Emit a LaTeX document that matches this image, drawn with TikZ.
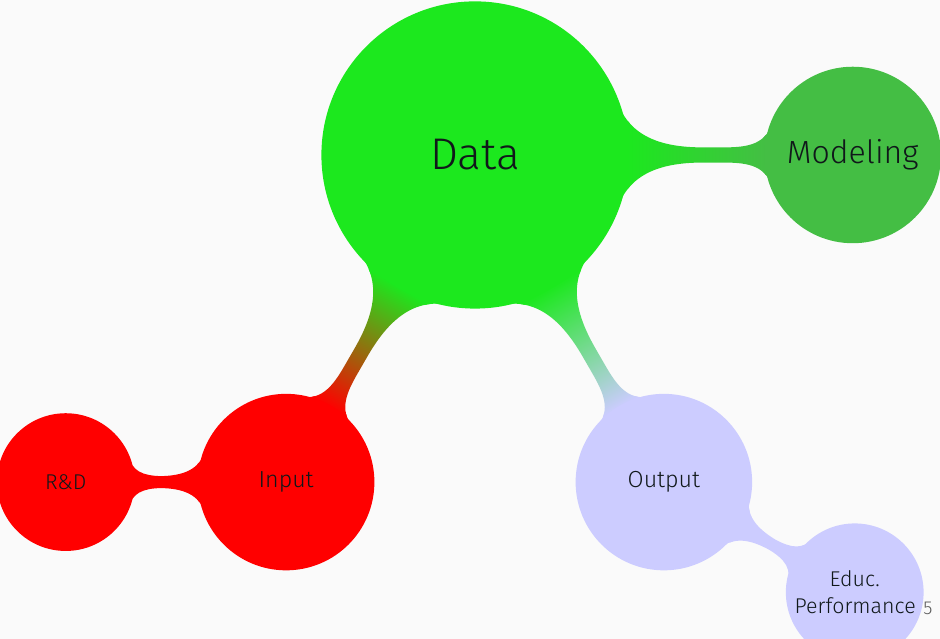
\documentclass[tikz,border=0pt]{standalone}
\usepackage{fontspec}
\setmainfont{Fira Sans}[UprightFont=* Light]
\usepackage{tikz}
\usetikzlibrary{mindmap, backgrounds}

\definecolor{datagreen}{RGB}{28,232,30}
\definecolor{modgreen}{RGB}{68,190,68}
\definecolor{inred}{RGB}{255,0,0}
\definecolor{outblue}{RGB}{204,204,255}
\definecolor{textdark}{HTML}{10181A}
\definecolor{slidebg}{HTML}{FAFAFA}

\begin{document}
\begin{tikzpicture}[
    rootc/.style={concept, inner sep=0pt, text=textdark, align=center,
        minimum size=4cm, text width=3cm, font=\fontsize{16.6}{20}\selectfont},
    lvlone/.style={concept, inner sep=0pt, text=textdark, align=center,
        minimum size=2.28cm, text width=1.75cm, font=\fontsize{8.7}{10.5}\selectfont},
    lvltwo/.style={concept, inner sep=0pt, text=textdark, align=center,
        minimum size=1.77cm, text width=1.58cm, font=\fontsize{8}{10.3}\selectfont},
]
    \useasboundingbox (-6.25,-6.368) rectangle (6.118,2.039);
    \begin{scope}[on background layer]
        \fill[slidebg] (-6.25,-6.368) rectangle (6.118,2.039);
    \end{scope}

    \begin{scope}[mindmap]
        \node[concept color=datagreen, rootc] (data) at (0,0) {Data};
        \node[concept color=modgreen, lvlone, font=\fontsize{12}{14}\selectfont] (modeling) at (4.97,0) {Modeling};
        \node[concept color=inred, lvlone] (input) at (-2.485,-4.304) {Input};
        \node[concept color=inred, lvltwo] (rnd) at (-5.385,-4.304) {R\&D};
        \node[concept color=outblue, lvlone] (output) at (2.485,-4.304) {Output};
        \node[concept color=outblue, lvltwo] (educ) at (4.996,-5.754) {Educ.\\ Performance};

        \begin{scope}[on background layer]
            \path (data) to[circle connection bar switch color=from (datagreen) to (modgreen)] (modeling);
            \path (data) to[circle connection bar switch color=from (datagreen) to (inred)] (input);
            \path (data) to[circle connection bar switch color=from (datagreen) to (outblue)] (output);
            \path (input) to[circle connection bar switch color=from (inred) to (inred)] (rnd);
            \path (output) to[circle connection bar switch color=from (outblue) to (outblue)] (educ);
        \end{scope}
    \end{scope}

    % frame number
    \node[text=black!65, font=\fontsize{7}{8}\selectfont] (pagenum) at (5.96,-5.96) {5};
\end{tikzpicture}
\end{document}
